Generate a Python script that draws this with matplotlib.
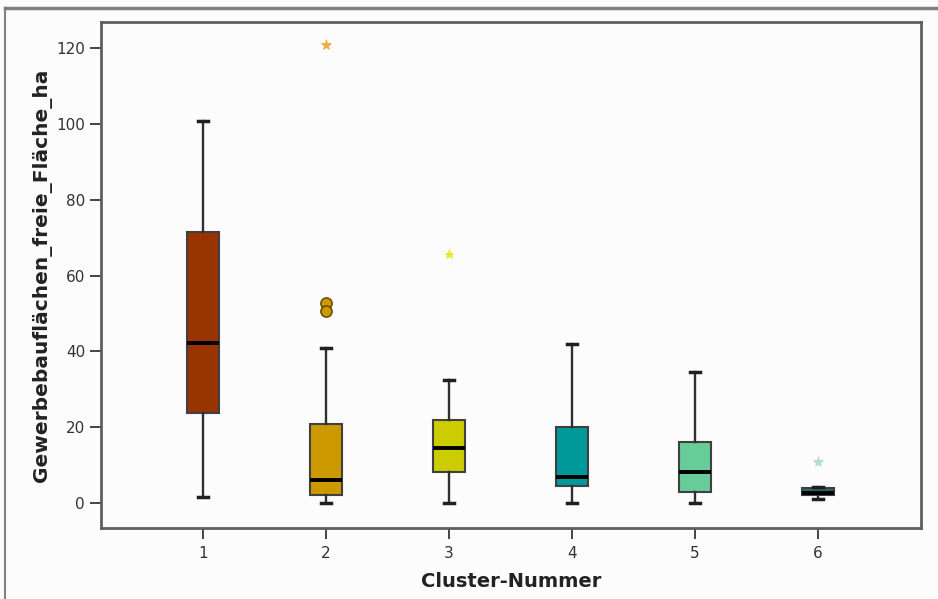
import matplotlib
matplotlib.use("Agg")
import matplotlib.pyplot as plt
from matplotlib.lines import Line2D

# Five-number summaries per cluster (ha)
clusters = ["1", "2", "3", "4", "5", "6"]
whisker_low = [1.5, 0.0, 0.0, 0.0, 0.0, 1.1]
q1 = [23.7, 2.1, 8.2, 4.5, 2.9, 2.1]
median = [42.2, 6.1, 14.5, 6.9, 8.2, 2.6]
q3 = [71.5, 20.8, 21.9, 20.1, 16.1, 3.9]
whisker_high = [100.8, 40.9, 32.5, 42.0, 34.6, 4.2]

# Outliers (circles) and extreme values (stars)
outliers = [[], [52.8, 50.7], [], [], [], []]
extremes = [[], [120.8], [65.7], [], [], [10.8]]

box_colors = ["#993300", "#CC9900", "#CCCC00", "#009999", "#66CC99", "#2F6666"]
star_colors = ["#993300", "#E8A030", "#E6E600", "#009999", "#66CC99", "#A8D8D0"]
star_sizes = [8, 8, 6.5, 8, 8, 8]

fig = plt.figure(figsize=(9.38, 5.99), dpi=100)
fig.patch.set_facecolor("#FCFCFC")
ax = fig.add_axes([101 / 938, 1 - 528 / 599, 820 / 938, 506 / 599])
ax.set_facecolor("#FCFCFC")

stats = []
for i in range(len(clusters)):
    stats.append(dict(whislo=whisker_low[i], q1=q1[i], med=median[i],
                      q3=q3[i], whishi=whisker_high[i], fliers=[],
                      label=clusters[i]))

positions = list(range(1, len(clusters) + 1))
bp = ax.bxp(stats, positions=positions, widths=0.26, patch_artist=True,
            showfliers=False,
            boxprops=dict(edgecolor="#404040", linewidth=1.5),
            medianprops=dict(color="black", linewidth=2.8),
            whiskerprops=dict(color="#303030", linewidth=1.7),
            capprops=dict(color="#202020", linewidth=2.5),
            capwidths=0.08)
for patch, c in zip(bp["boxes"], box_colors):
    patch.set_facecolor(c)

for i, pos in enumerate(positions):
    if outliers[i]:
        ax.plot([pos] * len(outliers[i]), outliers[i], "o", ms=8,
                mfc=box_colors[i], mec="#6B5000", mew=1.2, zorder=3)
    if extremes[i]:
        ax.plot([pos] * len(extremes[i]), extremes[i], "*", ms=star_sizes[i],
                mfc=star_colors[i], mec=star_colors[i], mew=0.5,
                alpha=0.85, zorder=3)

ax.set_xlim(0.171, 6.837)
ax.set_ylim(-6.6, 126.9)
ax.set_yticks([0, 20, 40, 60, 80, 100, 120])
ax.set_xticks(positions)
ax.set_xticklabels(clusters)

for side in ["top", "right", "bottom", "left"]:
    ax.spines[side].set_color("#5F5F5F")
    ax.spines[side].set_linewidth(2.0)

ax.tick_params(axis="both", direction="out", length=8, width=1.4,
               color="#444444", labelcolor="#333333", labelsize=11)
ax.tick_params(axis="x", pad=5)

ax.set_xlabel("Cluster-Nummer", fontsize=14, fontweight="bold",
              color="#222222", labelpad=8)
ax.set_ylabel("Gewerbebauflächen_freie_Fläche_ha", fontsize=14.5,
              fontweight="bold", color="#222222", labelpad=3)

# Outer frame lines
fig.add_artist(Line2D([5 / 938, 1.0], [1 - 8 / 599, 1 - 8 / 599],
                      transform=fig.transFigure, color="#808080", lw=2.5))
fig.add_artist(Line2D([5 / 938, 5 / 938], [1 - 8 / 599, 0.0],
                      transform=fig.transFigure, color="#808080", lw=1.5))

fig.savefig("out.png", dpi=100, facecolor=fig.get_facecolor())
